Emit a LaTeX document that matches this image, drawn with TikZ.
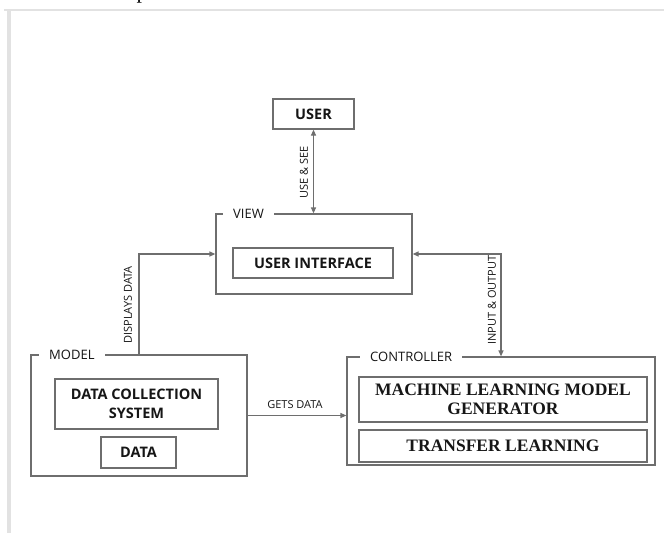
\documentclass[tikz,border=0pt]{standalone}
\usepackage{fontspec}
\setmainfont{Open Sans}
\newfontfamily\tnr{Liberation Serif}
\usetikzlibrary{arrows.meta}
\definecolor{linegray}{HTML}{6E6E6E}
\definecolor{framegray}{HTML}{E2E2E2}
\definecolor{inkc}{HTML}{161616}
\begin{document}
\begin{tikzpicture}[x=1pt,y=-1pt,
  every node/.style={text=inkc},
  box/.style={draw=linegray,line width=1.2pt,rectangle,inner sep=0pt},
  holder/.style={box},
  labelbf/.style={font=\fontsize{14.5}{17}\selectfont\bfseries,align=center},
  serifbf/.style={font=\tnr\fontsize{17.5}{19}\selectfont\bfseries,align=center},
  title/.style={fill=white,inner xsep=10pt,inner ysep=1pt,anchor=west,font=\fontsize{13}{15}\selectfont},
  flowlabel/.style={font=\fontsize{11}{13}\selectfont,inner sep=1pt},
  conn/.style={draw=linegray,line width=1.2pt},
  tip/.style={-{Triangle[length=6pt,width=5pt]}},
  tips/.style={{Triangle[length=6pt,width=5pt]}-{Triangle[length=6pt,width=5pt]}}]

\useasboundingbox (0,0) rectangle (664,535);

% page frame and the glyph foot showing from the line above
\begin{scope}
  \clip (0,0) rectangle (664,535);
  \node[font=\tnr\fontsize{22}{24}\selectfont,anchor=base,text=black] (pg) at (142,-1) {p};
  \draw[framegray,line width=2pt] (4,10) -- (664,10);
  \draw[framegray,line width=3.2pt] (9,9) -- (9,533);
\end{scope}

% USER
\node[box,minimum width=81pt,minimum height=30pt,labelbf] (user) at (313.5,114) {USER};

% VIEW
\node[holder,minimum width=196pt,minimum height=80pt] (view) at (314,254) {};
\node[title] (viewt) at (223,214) {VIEW\hspace{4pt}};
\node[box,minimum width=160pt,minimum height=30pt,labelbf] (ui) at (313,263) {USER INTERFACE};

% MODEL
\node[holder,minimum width=216pt,minimum height=121pt] (model) at (139,415.5) {};
\node[title] (modelt) at (39,355) {MODEL\hspace{3pt}};
\node[box,minimum width=163pt,minimum height=50pt,labelbf,
  font=\fontsize{14.5}{19.5}\selectfont\bfseries] (dcs) at (136.5,404) {DATA COLLECTION\\SYSTEM};
\node[box,minimum width=75pt,minimum height=31pt,labelbf] (data) at (138.5,452.5) {DATA};

% CONTROLLER
\node[holder,minimum width=308pt,minimum height=108pt] (ctrl) at (501,411) {};
\node[title] (ctrlt) at (360,357) {CONTROLLER\hspace{3pt}};
\node[box,minimum width=288pt,minimum height=45pt,serifbf] (ml) at (503,399.5) {MACHINE LEARNING MODEL\\GENERATOR};
\node[box,minimum width=288pt,minimum height=32pt,serifbf] (tl) at (503,446) {TRANSFER LEARNING};

% connectors
\draw[conn,tips] (user.south) -- (user.south |- view.north);
\draw[conn,tip] (model.north) |- (view.west);
\draw[conn,tips] (view.east) -| (ctrl.north);
\draw[conn,tip] (model.east) -- (model.east -| ctrl.west);

% connector labels
\node[flowlabel,rotate=90] (lbuse) at (304,172) {USE \& SEE};
\node[flowlabel,rotate=90] (lbdisp) at (128,305) {DISPLAYS DATA};
\node[flowlabel,rotate=90] (lbio) at (492,300) {INPUT \& OUTPUT};
\node[flowlabel] (lbget) at (295,405) {GETS DATA};
\end{tikzpicture}
\end{document}
